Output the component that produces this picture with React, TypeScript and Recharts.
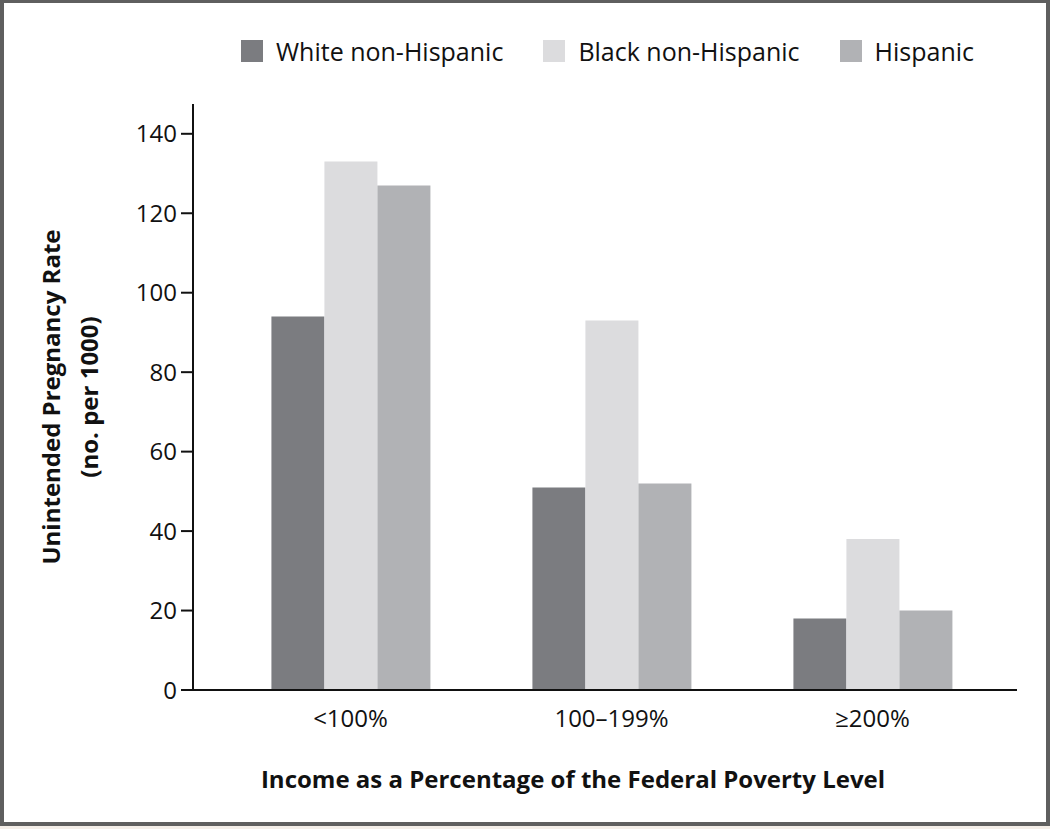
import React from 'react'
import { BarChart, Bar, XAxis, YAxis, Legend, Label } from 'recharts'

const categories = ['<100%', '100\u2013199%', '\u2265200%']
const whiteNonHispanic = [94, 51, 18]
const blackNonHispanic = [133, 93, 38]
const hispanic = [127, 52, 20]
const yTicks = [0, 20, 40, 60, 80, 100, 120, 140]

const seriesInfo = [
  { key: 'white', name: 'White non-Hispanic', color: '#7b7c80' },
  { key: 'black', name: 'Black non-Hispanic', color: '#dcdcde' },
  { key: 'hispanic', name: 'Hispanic', color: '#b1b2b5' },
]

const data = categories.map((c, i) => ({
  name: c,
  white: whiteNonHispanic[i],
  black: blackNonHispanic[i],
  hispanic: hispanic[i],
}))

const font = '"Open Sans", sans-serif'

// fixed height so the plot top stays put
const LegendContent = () => (
  <div style={{ display: 'flex', alignItems: 'center', height: 30, fontFamily: font, fontSize: 25, color: '#111' }}>
    {seriesInfo.map((s, i) => (
      <div key={s.key} style={{ display: 'flex', alignItems: 'center', marginRight: i < 2 ? 40 : 0 }}>
        <span style={{ width: 22, height: 22, background: s.color, display: 'inline-block', marginRight: 13 }} />
        <span>{s.name}</span>
      </div>
    ))}
  </div>
)

const XTitle = (props: any) => {
  const { viewBox } = props
  return (
    <text
      x={viewBox.x + viewBox.width / 2 - 32}
      y={viewBox.y + viewBox.height + 58}
      textAnchor="middle"
      fill="#111"
      fontSize={24}
      fontWeight={700}
      fontFamily={font}
    >
      Income as a Percentage of the Federal Poverty Level
    </text>
  )
}

const App = () => {
  return (
    <div style={{ position: 'absolute', left: 0, top: 0, width: 1050, height: 829, background: '#f4eee8' }}>
      <div
        style={{
          position: 'absolute',
          left: 0,
          top: 0,
          width: 1042,
          height: 819,
          borderLeft: '4px solid #5f5f5f',
          borderRight: '4px solid #5f5f5f',
          borderTop: '3px solid #5f5f5f',
          borderBottom: '4px solid #5f5f5f',
          background: '#fff',
        }}
      />
      <div style={{ position: 'absolute', left: 0, top: 0 }}>
        <BarChart
          width={1050}
          height={829}
          data={data}
          margin={{ top: 74, right: 33, left: 113, bottom: 99 }}
          barCategoryGap="19.7%"
          barGap={0}
        >
          <Legend
            verticalAlign="top"
            content={<LegendContent />}
            wrapperStyle={{ position: 'absolute', top: 36, left: 241, width: 800, height: 30 }}
          />
          <XAxis
            dataKey="name"
            padding={{ left: 27, right: 14 }}
            axisLine={{ stroke: '#111', strokeWidth: 2 }}
            tickLine={false}
            tick={{ fill: '#111', fontSize: 24, fontFamily: font }}
            tickMargin={14}
            height={40}
          >
            <Label content={<XTitle />} />
          </XAxis>
          <YAxis
            domain={[0, 147.5]}
            ticks={yTicks}
            width={80}
            axisLine={{ stroke: '#111', strokeWidth: 2 }}
            tickLine={{ stroke: '#111', strokeWidth: 2 }}
            tickSize={12}
            tickMargin={4}
            tick={{ fill: '#111', fontSize: 24, fontFamily: font }}
          />
          {seriesInfo.map((s) => (
            <Bar key={s.key} dataKey={s.key} name={s.name} fill={s.color} isAnimationActive={false} />
          ))}
        </BarChart>
      </div>
      <div
        style={{
          position: 'absolute',
          left: 70,
          top: 397,
          transform: 'translate(-50%, -50%) rotate(-90deg)',
          whiteSpace: 'nowrap',
          textAlign: 'center',
          fontFamily: font,
          fontWeight: 700,
          fontSize: 24,
          lineHeight: '38px',
          color: '#111',
        }}
      >
        Unintended Pregnancy Rate
        <br />
        (no. per 1000)
      </div>
    </div>
  )
}

export default App
